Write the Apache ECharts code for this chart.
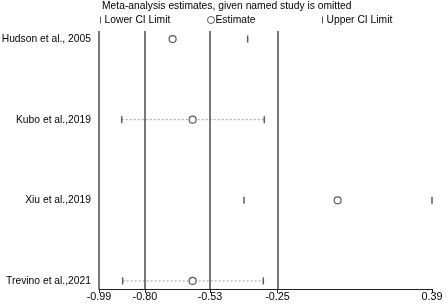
<!DOCTYPE html>
<html>
<head>
<meta charset="utf-8">
<script src="https://cdn.jsdelivr.net/npm/echarts@6/dist/echarts.min.js"></script>
<style>
  html, body { margin: 0; padding: 0; background: #fff; }
  #chart { width: 447px; height: 307px; }
</style>
</head>
<body>
<div id="chart"></div>
<script>
const studies = ['Hudson et al., 2005', 'Kubo et al.,2019', 'Xiu et al.,2019', 'Trevino et al.,2021'];
const lowerCI = [null, -0.896, -0.389, -0.892];
const estimate = [-0.685, -0.602, -0.001, -0.602];
const upperCI = [-0.374, -0.305, 0.39, -0.309];
const dottedRows = [1, 3]; // studies drawn with a dotted CI line
const xTicks = [-0.99, -0.80, -0.53, -0.25, 0.39];
const refLines = [-0.99, -0.80, -0.53, -0.25];

const chart = echarts.init(document.getElementById('chart'));
const font = 'Arial, "Liberation Sans", sans-serif';
const barIcon = 'path://M0,0 L1,0 L1,7 L0,7 Z';
const fs = 10.3;

const pts = arr => arr.map((v, i) => (v == null ? null : [v, i])).filter(Boolean);

const ciLines = dottedRows.map(i => ({
  type: 'line',
  data: [[lowerCI[i], i], [upperCI[i], i]],
  symbol: 'none',
  silent: true,
  lineStyle: { color: '#a0a0a0', width: 1, type: [2, 2] },
  z: 1
}));

const option = {
  animation: false,
  title: {
    text: 'Meta-analysis estimates, given named study is omitted',
    left: 102,
    top: 1,
    padding: 0,
    textStyle: { fontSize: fs, fontWeight: 'normal', color: '#000', fontFamily: font }
  },
  legend: [
    {
      data: [{ name: 'Lower CI Limit', icon: barIcon }],
      left: 100, top: 15, padding: 0, itemWidth: 2, itemHeight: 7,
      textStyle: { fontSize: fs, color: '#000', fontFamily: font, padding: [0, 0, 0, -2] }
    },
    {
      data: [{
        name: 'Estimate', icon: 'circle',
        itemStyle: { color: '#fff', borderColor: '#333', borderWidth: 1 }
      }],
      left: 207, top: 15, padding: 0, itemWidth: 7, itemHeight: 7,
      textStyle: { fontSize: fs, color: '#000', fontFamily: font, padding: [0, 0, 0, -4] }
    },
    {
      data: [{ name: 'Upper CI Limit', icon: barIcon }],
      left: 322, top: 15, padding: 0, itemWidth: 2, itemHeight: 7,
      textStyle: { fontSize: fs, color: '#000', fontFamily: font, padding: [0, 0, 0, -2] }
    }
  ],
  grid: { left: 99, right: 15, top: 31, bottom: 18, containLabel: false, outerBoundsMode: 'none' },
  xAxis: {
    type: 'value',
    min: -0.99,
    max: 0.39,
    splitLine: { show: false },
    axisLine: { onZero: false, lineStyle: { color: '#222', width: 1 } },
    axisTick: { customValues: xTicks, length: 4, lineStyle: { color: '#222' } },
    axisLabel: {
      customValues: xTicks,
      formatter: v => v.toFixed(2),
      fontSize: 10.8, color: '#000', fontFamily: font, margin: 3
    }
  },
  yAxis: {
    type: 'value',
    inverse: true,
    min: -0.1,
    max: 3.1,
    splitLine: { show: false },
    axisLine: { show: false },
    axisTick: { show: false },
    axisLabel: {
      customValues: [0, 1, 2, 3],
      formatter: v => studies[v],
      fontSize: fs, color: '#000', fontFamily: font, margin: 8
    }
  },
  series: [
    ...ciLines,
    {
      name: 'Lower CI Limit',
      type: 'scatter',
      data: pts(lowerCI),
      symbol: barIcon,
      symbolSize: [1.5, 7],
      itemStyle: { color: '#333' },
      z: 3
    },
    {
      name: 'Estimate',
      type: 'scatter',
      data: pts(estimate),
      symbol: 'circle',
      symbolSize: 7,
      itemStyle: { color: '#fff', borderColor: '#333', borderWidth: 1.2 },
      z: 4,
      markLine: {
        silent: true,
        symbol: 'none',
        label: { show: false },
        lineStyle: { color: '#4a4a4a', width: 1.5, type: 'solid' },
        data: refLines.map(v => ({ xAxis: v }))
      }
    },
    {
      name: 'Upper CI Limit',
      type: 'scatter',
      data: pts(upperCI),
      symbol: barIcon,
      symbolSize: [1.5, 7],
      itemStyle: { color: '#333' },
      z: 3
    }
  ]
};

chart.setOption(option);
</script>
</body>
</html>
